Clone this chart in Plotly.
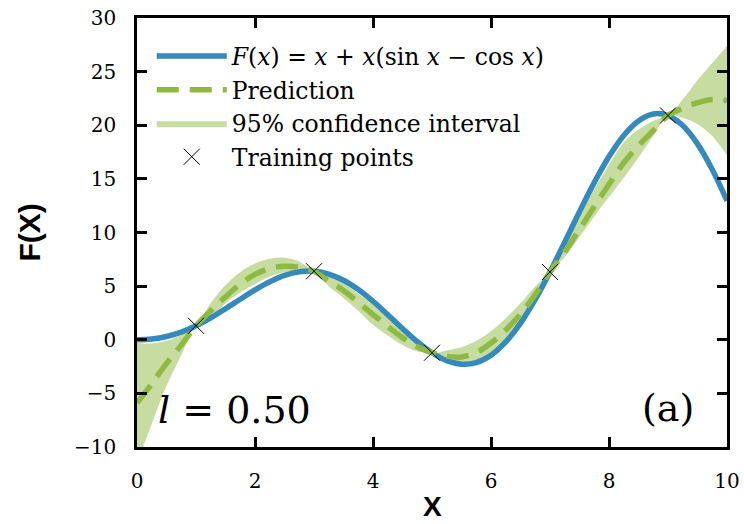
import plotly.graph_objects as go

# ---- data ----
x_true = [0.0, 0.25, 0.5, 0.75, 1.0, 1.25, 1.5, 1.75, 2.0, 2.25, 2.5, 2.75, 3.0,
          3.25, 3.5, 3.75, 4.0, 4.25, 4.5, 4.75, 5.0, 5.25, 5.5, 5.75, 6.0, 6.25,
          6.5, 6.75, 7.0, 7.25, 7.5, 7.75, 8.0, 8.25, 8.5, 8.75, 9.0, 9.25, 9.5,
          9.75, 10.0]
y_true = [0.0, 0.07, 0.30, 0.71, 1.30, 2.04, 2.89, 3.78, 4.65, 5.41, 6.00, 6.34, 6.39,
          6.13, 5.55, 4.68, 3.59, 2.34, 1.05, -0.18, -1.21, -1.95, -2.28, -2.13, -1.44,
          -0.20, 1.55, 3.76, 6.32, 9.10, 11.94, 14.65, 17.08, 19.05, 20.40, 21.05, 20.91,
          19.97, 18.26, 15.87, 12.95]

x_pred = [0.0, 0.25, 0.5, 0.75, 1.0, 1.25, 1.5, 1.75, 2.0, 2.25, 2.5, 2.75, 3.0,
          3.25, 3.5, 3.75, 4.0, 4.25, 4.5, 4.75, 5.0, 5.25, 5.5, 5.75, 6.0, 6.25,
          6.5, 6.75, 7.0, 7.25, 7.5, 7.75, 8.0, 8.25, 8.5, 8.75, 9.0, 9.25, 9.5,
          9.75, 10.0]
y_pred = [-5.9, -4.1, -2.2, -0.5, 1.3, 2.7, 4.0, 5.2, 6.1, 6.65, 6.85, 6.75, 6.39,
          5.45, 4.6, 3.5, 2.35, 1.25, 0.2, -0.65, -1.21, -1.55, -1.6, -1.2, -0.3,
          0.9, 2.4, 4.2, 6.32, 8.2, 10.3, 12.4, 14.5, 16.5, 18.1, 19.5, 20.91,
          21.6, 22.1, 22.4, 22.3]
y_upper = [-0.3, -0.35, -0.1, 0.45, 1.3, 3.4, 5.1, 6.3, 7.1, 7.55, 7.65, 7.3, 6.39,
           6.0, 5.3, 4.3, 3.3, 2.1, 0.9, -0.3, -1.21, -1.0, -0.7, -0.1, 0.8,
           2.0, 3.4, 5.0, 6.32, 9.0, 11.5, 14.0, 16.3, 18.4, 19.6, 20.4, 20.91,
           22.4, 24.2, 25.8, 27.4]
y_lower = [-11.5, -7.85, -4.3, -1.45, 1.3, 2.0, 3.4, 4.4, 5.2, 5.9, 6.3, 6.5, 6.39,
           5.0, 3.9, 2.7, 1.4, 0.4, -0.5, -1.1, -1.21, -2.0, -2.4, -2.2, -1.3,
           -0.1, 1.4, 3.5, 6.32, 7.7, 9.6, 11.5, 13.3, 15.1, 17.0, 19.0, 20.91,
           20.7, 20.1, 19.0, 17.2]

x_train = [1, 3, 5, 7, 9]
y_train = [1.30, 6.39, -1.21, 6.32, 20.91]

x_ticks = [0, 2, 4, 6, 8, 10]
y_ticks = [-10, -5, 0, 5, 10, 15, 20, 25, 30]
y_tick_text = ["\u221210", "\u22125", "0", "5", "10", "15", "20", "25", "30"]

BLUE = "#348ABD"
GREEN = "#8EBA42"
BAND = "rgba(142,186,66,0.5)"
SERIF = "DejaVu Serif, Liberation Serif, serif"
SANS = "Liberation Sans, Arial, sans-serif"

fig = go.Figure()

fig.add_trace(go.Scatter(x=x_pred, y=y_lower, mode="lines",
                         line=dict(width=0, color="rgba(0,0,0,0)", shape="spline"),
                         showlegend=False, hoverinfo="skip"))
fig.add_trace(go.Scatter(x=x_pred, y=y_upper, mode="lines", fill="tonexty", fillcolor=BAND,
                         line=dict(width=0, color="rgba(0,0,0,0)", shape="spline"),
                         name="95% confidence interval", legendrank=3, legendgroup="c"))
fig.add_trace(go.Scatter(x=x_true, y=y_true, mode="lines", line=dict(color=BLUE, width=5.5, shape="spline"),
                         name="<i>F</i>(<i>x</i>) = <i>x</i> + <i>x</i>(sin <i>x</i> \u2212 cos <i>x</i>)",
                         legendrank=1, legendgroup="a"))
fig.add_trace(go.Scatter(x=x_pred, y=y_pred, mode="lines",
                         line=dict(color=GREEN, width=5.5, dash="22px,11px", shape="spline"),
                         name="Prediction", legendrank=2, legendgroup="b"))
fig.add_trace(go.Scatter(x=x_train, y=y_train, mode="markers",
                         marker=dict(symbol="x-thin", size=16, line=dict(width=1, color="black"), color="black"),
                         name="Training points", legendrank=4, legendgroup="d"))

axis_common = dict(showline=True, linecolor="black", linewidth=2.5, mirror="ticks",
                   ticks="inside", ticklen=10, tickwidth=2.5, tickcolor="black",
                   showgrid=False, zeroline=False, automargin=False,
                   tickfont=dict(family=SERIF, size=20, color="black"))

fig.update_xaxes(range=[0, 10], tickvals=x_ticks, ticklabelstandoff=14, **axis_common)
fig.update_yaxes(range=[-10, 30], tickvals=y_ticks, ticktext=y_tick_text, ticklabelstandoff=14, **axis_common)

fig.update_layout(
    width=744, height=524,
    margin=dict(l=137, r=17, t=18, b=77, autoexpand=False),
    paper_bgcolor="white", plot_bgcolor="white",
    showlegend=True,
    legend=dict(x=0.025, y=0.962, xanchor="left", yanchor="top",
                bgcolor="rgba(0,0,0,0)", font=dict(family=SERIF, size=23.5, color="black"),
                tracegroupgap=0, itemwidth=70),
    annotations=[
        dict(x=1.66, y=-6.55, xref="x", yref="y", text="<i>l</i> = 0.50", showarrow=False,
             font=dict(family=SERIF, size=38, color="black")),
        dict(x=9.0, y=-6.4, xref="x", yref="y", text="(a)", showarrow=False,
             font=dict(family=SERIF, size=38, color="black")),
        dict(x=0.5, y=-0.138, xref="paper", yref="paper", text="<b>X</b>", showarrow=False,
             yanchor="middle", font=dict(family=SANS, size=28, color="black")),
        dict(x=-0.183, y=0.5, xref="paper", yref="paper", text="<b>F(X)</b>", showarrow=False,
             textangle=-90, xanchor="center", font=dict(family=SANS, size=30, color="black")),
    ],
)

fig.write_html("out.html")
